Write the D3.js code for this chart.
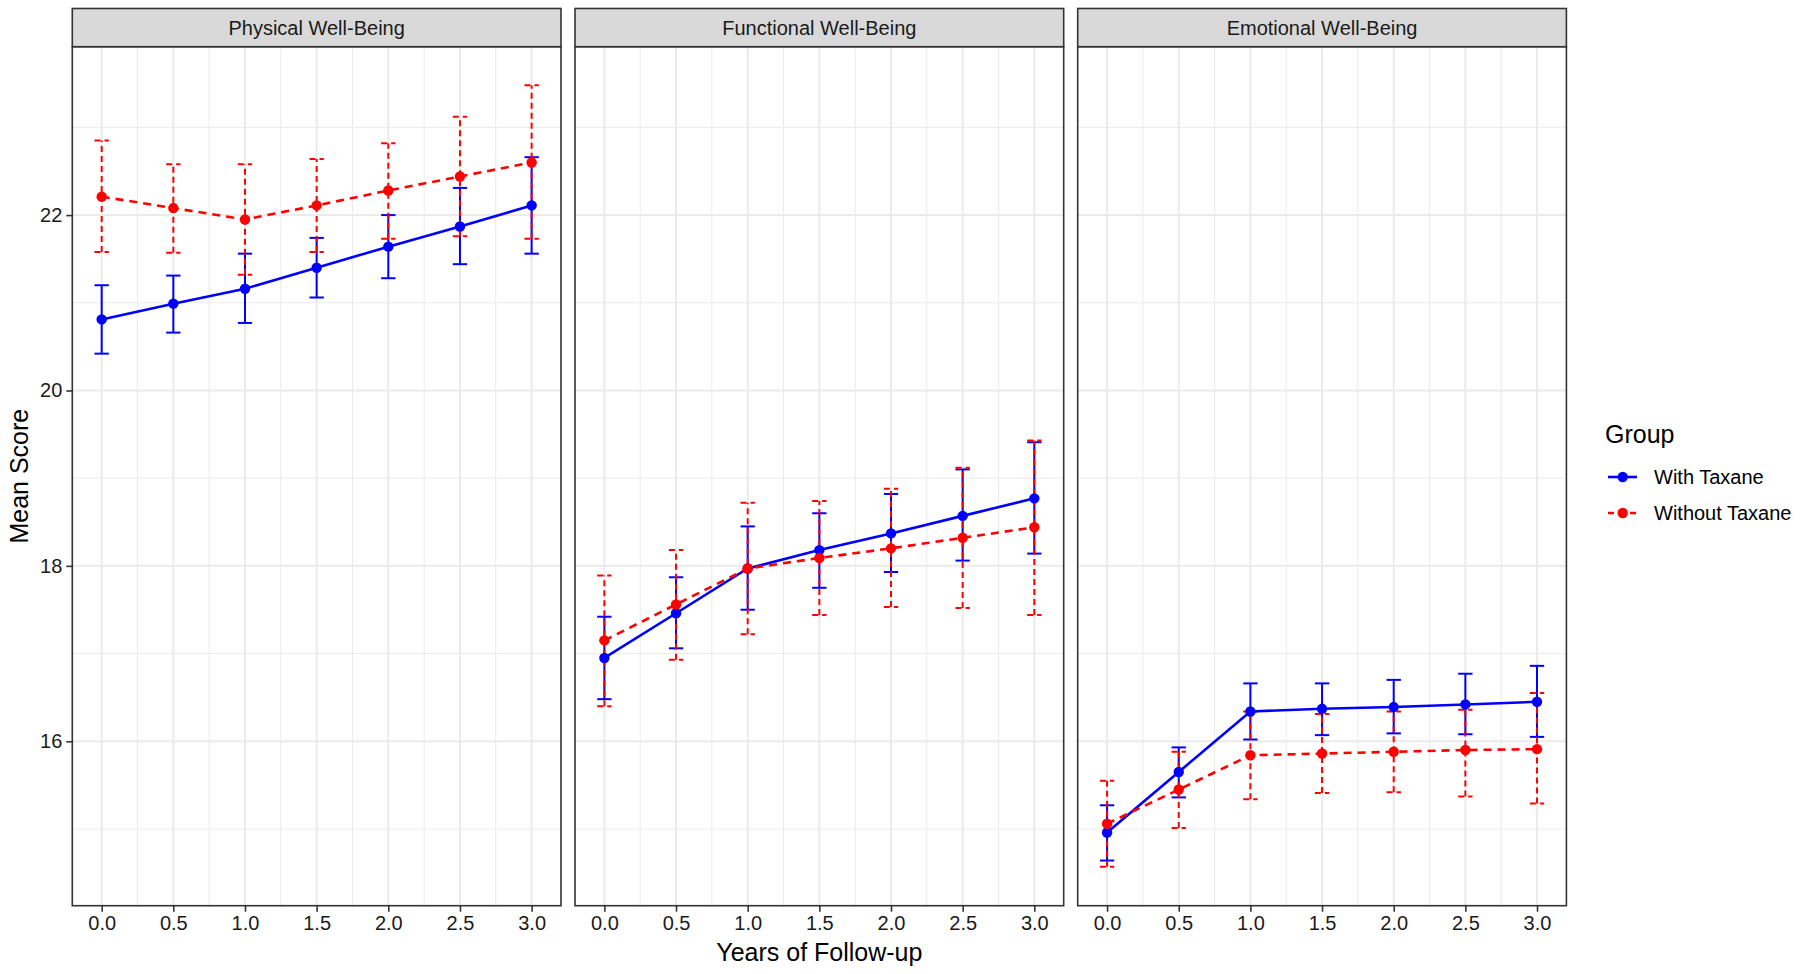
<!DOCTYPE html>
<html>
<head>
<meta charset="utf-8">
<script src="https://cdn.jsdelivr.net/npm/d3@7"></script>
<style>
  body { margin: 0; background: #fff; }
  svg { display: block; font-family: "Liberation Sans", Arial, sans-serif; }
</style>
</head>
<body>
<script>
// years on the x axis, one facet per well-being domain
const years = [0, 0.5, 1, 1.5, 2, 2.5, 3];
const panels = ["Physical Well-Being", "Functional Well-Being", "Emotional Well-Being"];
const groups = ["With Taxane", "Without Taxane"];
const yTicks = [16, 18, 20, 22];
const xTicks = [0, 0.5, 1, 1.5, 2, 2.5, 3];

// Physical
const physWith = [20.81, 20.99, 21.16, 21.40, 21.64, 21.87, 22.11];
const physWithLo = [20.42, 20.66, 20.77, 21.06, 21.28, 21.44, 21.56];
const physWithHi = [21.20, 21.31, 21.56, 21.74, 22.00, 22.31, 22.66];
const physWithout = [22.21, 22.08, 21.95, 22.11, 22.28, 22.44, 22.60];
const physWithoutLo = [21.58, 21.57, 21.32, 21.58, 21.73, 21.76, 21.73];
const physWithoutHi = [22.85, 22.58, 22.58, 22.64, 22.82, 23.12, 23.48];

// Functional
const funcWith = [16.95, 17.46, 17.97, 18.18, 18.37, 18.57, 18.77];
const funcWithLo = [16.48, 17.06, 17.50, 17.75, 17.93, 18.06, 18.14];
const funcWithHi = [17.42, 17.87, 18.45, 18.60, 18.82, 19.10, 19.41];
const funcWithout = [17.15, 17.56, 17.97, 18.09, 18.20, 18.32, 18.44];
const funcWithoutLo = [16.40, 16.93, 17.22, 17.44, 17.53, 17.52, 17.44];
const funcWithoutHi = [17.89, 18.18, 18.72, 18.74, 18.88, 19.12, 19.43];

// Emotional
const emoWith = [14.96, 15.65, 16.34, 16.37, 16.39, 16.42, 16.45];
const emoWithLo = [14.64, 15.36, 16.02, 16.07, 16.09, 16.08, 16.05];
const emoWithHi = [15.27, 15.93, 16.66, 16.66, 16.70, 16.77, 16.86];
const emoWithout = [15.06, 15.45, 15.84, 15.86, 15.88, 15.90, 15.91];
const emoWithoutLo = [14.57, 15.01, 15.34, 15.41, 15.42, 15.37, 15.29];
const emoWithoutHi = [15.55, 15.88, 16.34, 16.31, 16.34, 16.36, 16.55];

const series = [
  [[physWith, physWithLo, physWithHi], [physWithout, physWithoutLo, physWithoutHi]],
  [[funcWith, funcWithLo, funcWithHi], [funcWithout, funcWithoutLo, funcWithoutHi]],
  [[emoWith, emoWithLo, emoWithHi], [emoWithout, emoWithoutLo, emoWithoutHi]]
];

const colors = ["#0000FF", "#FF0000"];
const dashes = [null, "8,6"];

const width = 1800, height = 974;
const panelLeft = [72.3, 575, 1077.7];
const panelW = 488.7;
const stripTop = 8.5, plotTop = 46.7, plotBottom = 905.7;

const svg = d3.select("body").append("svg")
    .attr("width", width)
    .attr("height", height)
    .attr("viewBox", [0, 0, width, height]);

const y = d3.scaleLinear().domain([14.125, 23.92]).range([plotBottom, plotTop]);

panels.forEach((name, p) => {
  const x = d3.scaleLinear().domain([-0.205, 3.205]).range([panelLeft[p], panelLeft[p] + panelW]);
  const g = svg.append("g");

  // grid
  const minorY = [15, 17, 19, 21, 23];
  const minorX = [0.25, 0.75, 1.25, 1.75, 2.25, 2.75];
  g.append("g").selectAll("line").data(minorY).join("line")
      .attr("x1", x.range()[0]).attr("x2", x.range()[1])
      .attr("y1", d => y(d)).attr("y2", d => y(d))
      .attr("stroke", "#EBEBEB").attr("stroke-width", 1);
  g.append("g").selectAll("line").data(minorX).join("line")
      .attr("x1", d => x(d)).attr("x2", d => x(d))
      .attr("y1", plotTop).attr("y2", plotBottom)
      .attr("stroke", "#EBEBEB").attr("stroke-width", 1);
  g.append("g").selectAll("line").data(yTicks).join("line")
      .attr("x1", x.range()[0]).attr("x2", x.range()[1])
      .attr("y1", d => y(d)).attr("y2", d => y(d))
      .attr("stroke", "#EBEBEB").attr("stroke-width", 2);
  g.append("g").selectAll("line").data(xTicks).join("line")
      .attr("x1", d => x(d)).attr("x2", d => x(d))
      .attr("y1", plotTop).attr("y2", plotBottom)
      .attr("stroke", "#EBEBEB").attr("stroke-width", 2);

  const ser = series[p];

  // error bars (blue first, red on top)
  ser.forEach((s, k) => {
    const eg = g.append("g")
        .attr("stroke", colors[k])
        .attr("stroke-width", 2)
        .attr("stroke-dasharray", dashes[k] ? "6,4" : null)
        .attr("fill", "none");
    years.forEach((yr, i) => {
      eg.append("line")
          .attr("x1", x(yr)).attr("x2", x(yr))
          .attr("y1", y(s[1][i])).attr("y2", y(s[2][i]));
      [s[1][i], s[2][i]].forEach(v => {
        eg.append("line")
            .attr("x1", x(yr - 0.05)).attr("x2", x(yr + 0.05))
            .attr("y1", y(v)).attr("y2", y(v));
      });
    });
  });

  // lines
  ser.forEach((s, k) => {
    g.append("path")
        .datum(years.map((yr, i) => [yr, s[0][i]]))
        .attr("fill", "none")
        .attr("stroke", colors[k])
        .attr("stroke-width", 2.6)
        .attr("stroke-dasharray", dashes[k])
        .attr("d", d3.line().x(d => x(d[0])).y(d => y(d[1])));
  });

  // points
  ser.forEach((s, k) => {
    g.append("g").selectAll("circle").data(years.map((yr, i) => [yr, s[0][i]])).join("circle")
        .attr("cx", d => x(d[0]))
        .attr("cy", d => y(d[1]))
        .attr("r", 5.2)
        .attr("fill", colors[k]);
  });

  // panel border
  g.append("rect")
      .attr("x", panelLeft[p]).attr("y", plotTop)
      .attr("width", panelW).attr("height", plotBottom - plotTop)
      .attr("fill", "none").attr("stroke", "#333333").attr("stroke-width", 1.6);

  // strip
  g.append("rect")
      .attr("x", panelLeft[p]).attr("y", stripTop)
      .attr("width", panelW).attr("height", plotTop - stripTop)
      .attr("fill", "#D9D9D9").attr("stroke", "#333333").attr("stroke-width", 1.6);
  g.append("text")
      .attr("x", panelLeft[p] + panelW / 2)
      .attr("y", (stripTop + plotTop) / 2)
      .attr("dy", "0.35em")
      .attr("text-anchor", "middle")
      .attr("font-size", 20)
      .attr("fill", "#1A1A1A")
      .text(name);

  // x axis
  svg.append("g")
      .attr("transform", `translate(0,${plotBottom})`)
      .call(d3.axisBottom(x).tickValues(xTicks).tickFormat(d3.format(".1f")).tickSize(6).tickPadding(4))
      .call(a => a.select(".domain").remove())
      .call(a => a.selectAll("line").attr("stroke", "#333333").attr("stroke-width", 1.6))
      .call(a => a.selectAll("text").attr("font-size", 20).attr("fill", "#1A1A1A")
          .attr("font-family", "Liberation Sans, Arial, sans-serif"));

  if (p === 0) {
    svg.append("g")
        .attr("transform", `translate(${panelLeft[0]},0)`)
        .call(d3.axisLeft(y).tickValues(yTicks).tickSize(6).tickPadding(4))
        .call(a => a.select(".domain").remove())
        .call(a => a.selectAll("line").attr("stroke", "#333333").attr("stroke-width", 1.6))
        .call(a => a.selectAll("text").attr("font-size", 20).attr("fill", "#1A1A1A")
            .attr("font-family", "Liberation Sans, Arial, sans-serif"));
  }
});

// axis titles
svg.append("text")
    .attr("x", (panelLeft[0] + panelLeft[2] + panelW) / 2)
    .attr("y", 961)
    .attr("text-anchor", "middle")
    .attr("font-size", 25)
    .attr("fill", "#000")
    .text("Years of Follow-up");

svg.append("text")
    .attr("transform", `translate(28,${(plotTop + plotBottom) / 2}) rotate(-90)`)
    .attr("text-anchor", "middle")
    .attr("font-size", 25)
    .attr("fill", "#000")
    .text("Mean Score");

// legend
const legend = svg.append("g");
legend.append("text")
    .attr("x", 1605)
    .attr("y", 443)
    .attr("font-size", 25)
    .attr("fill", "#000")
    .text("Group");

groups.forEach((grp, k) => {
  const cy = 477 + k * 36;
  legend.append("line")
      .attr("x1", 1608).attr("x2", 1637)
      .attr("y1", cy).attr("y2", cy)
      .attr("stroke", colors[k])
      .attr("stroke-width", 2.6)
      .attr("stroke-dasharray", dashes[k] ? "6,5" : null);
  legend.append("circle")
      .attr("cx", 1622.7).attr("cy", cy).attr("r", 5.2)
      .attr("fill", colors[k]);
  legend.append("text")
      .attr("x", 1654)
      .attr("y", cy)
      .attr("dy", "0.35em")
      .attr("font-size", 20)
      .attr("fill", "#000")
      .text(grp);
});
</script>
</body>
</html>
